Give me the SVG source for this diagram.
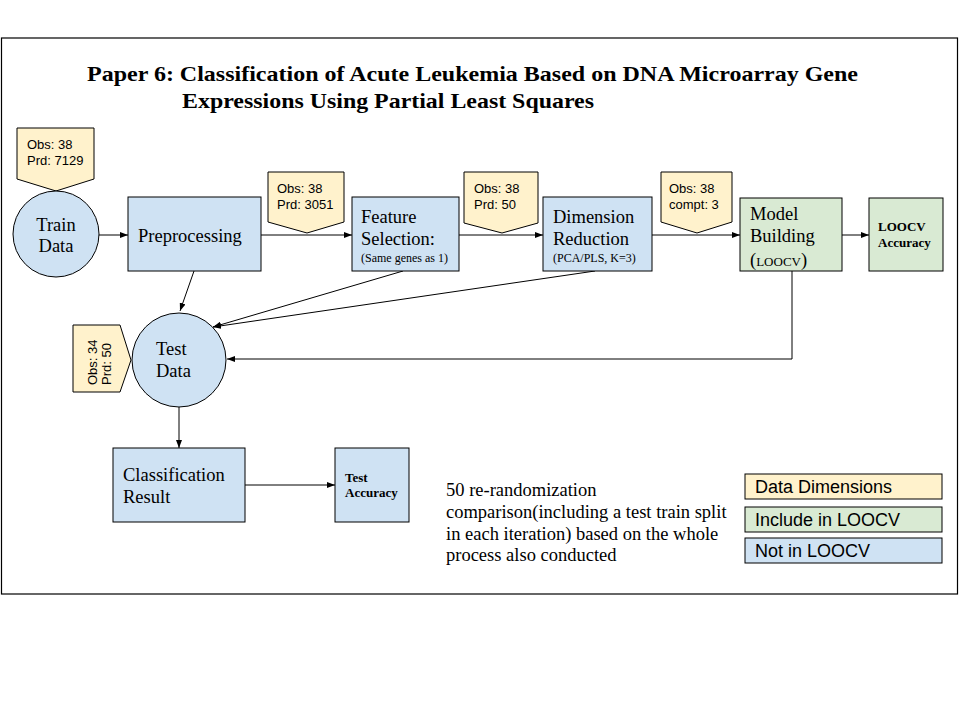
<svg xmlns="http://www.w3.org/2000/svg" width="960" height="720" viewBox="0 0 960 720">
<defs>
<marker id="ah" markerWidth="8" markerHeight="6" refX="8" refY="3" orient="auto" markerUnits="userSpaceOnUse">
<path d="M0,0 L8,3 L0,6 Z" fill="#000"/>
</marker>
<style>
.blue{fill:#cfe2f3;stroke:#000;stroke-width:1}
.green{fill:#d9ead3;stroke:#000;stroke-width:1}
.yel{fill:#fff2cc;stroke:#000;stroke-width:1}
.ser{font-family:"Liberation Serif","Times New Roman",serif;font-size:18.5px;fill:#000}
.sm{font-family:"Liberation Serif","Times New Roman",serif;font-size:12px;fill:#000}
.bsm{font-family:"Liberation Serif","Times New Roman",serif;font-size:13px;font-weight:bold;fill:#000}
.dim{font-family:"Liberation Sans",Arial,sans-serif;font-size:13px;fill:#000}
.leg{font-family:"Liberation Sans",Arial,sans-serif;font-size:18px;fill:#000}
.note{font-family:"Liberation Serif","Times New Roman",serif;font-size:18.5px;fill:#000}
.title{font-family:"Liberation Serif","Times New Roman",serif;font-size:21px;font-weight:bold;fill:#000}
.con{fill:none;stroke:#000;stroke-width:1}
</style>
</defs>
<rect x="0" y="0" width="960" height="720" fill="#fff"/>
<rect x="1.5" y="38" width="956" height="556" fill="none" stroke="#000" stroke-width="1.2"/>
<g id="title">
<text class="title" x="87" y="81" textLength="771" lengthAdjust="spacingAndGlyphs">Paper 6: Classification of Acute Leukemia Based on DNA Microarray Gene</text>
<text class="title" x="182" y="108" textLength="412" lengthAdjust="spacingAndGlyphs">Expressions Using Partial Least Squares</text>
</g>
<g id="connectors">
<line class="con" x1="99" y1="235" x2="128" y2="235" marker-end="url(#ah)"/>
<line class="con" x1="261" y1="235" x2="352" y2="235" marker-end="url(#ah)"/>
<line class="con" x1="459" y1="235" x2="543" y2="235" marker-end="url(#ah)"/>
<line class="con" x1="652" y1="235" x2="740" y2="235" marker-end="url(#ah)"/>
<line class="con" x1="842" y1="235" x2="869" y2="235" marker-end="url(#ah)"/>
<polyline class="con" points="792,271 792,359 227,359" marker-end="url(#ah)"/>
<line class="con" x1="194" y1="271" x2="180" y2="311" marker-end="url(#ah)"/>
<line class="con" x1="403" y1="271" x2="213" y2="327" marker-end="url(#ah)"/>
<line class="con" x1="595" y1="271" x2="213" y2="327" marker-end="url(#ah)"/>
<line class="con" x1="179" y1="407" x2="179" y2="448" marker-end="url(#ah)"/>
<line class="con" x1="245" y1="485" x2="335" y2="485" marker-end="url(#ah)"/>
</g>
<g id="dim-train">
<polygon class="yel" points="17,128 94,128 94,179 56,191 17,179"/>
<text class="dim" x="27" y="149">Obs: 38</text>
<text class="dim" x="27" y="165">Prd: 7129</text>
</g>
<g id="train-data">
<circle class="blue" cx="56" cy="234" r="43"/>
<text class="ser" x="56" y="231" text-anchor="middle">Train</text>
<text class="ser" x="56" y="252" text-anchor="middle">Data</text>
</g>
<g id="preprocessing">
<rect class="blue" x="128" y="197" width="133" height="74"/>
<text class="ser" x="138" y="242">Preprocessing</text>
</g>
<g id="dim-pre">
<polygon class="yel" points="268,172 344,172 344,222 307,233 268,222"/>
<text class="dim" x="277" y="193">Obs: 38</text>
<text class="dim" x="277" y="209">Prd: 3051</text>
</g>
<g id="feature-selection">
<rect class="blue" x="352" y="197" width="107" height="74"/>
<text class="ser" x="361" y="223">Feature</text>
<text class="ser" x="361" y="245">Selection:</text>
<text class="sm" x="361" y="262">(Same genes as 1)</text>
</g>
<g id="dim-fs">
<polygon class="yel" points="464,172 538,172 538,223 502,233 464,223"/>
<text class="dim" x="474" y="193">Obs: 38</text>
<text class="dim" x="474" y="209">Prd: 50</text>
</g>
<g id="dimension-reduction">
<rect class="blue" x="543" y="197" width="109" height="74"/>
<text class="ser" x="553" y="223">Dimension</text>
<text class="ser" x="553" y="245">Reduction</text>
<text class="sm" x="553" y="262">(PCA/PLS, K=3)</text>
</g>
<g id="dim-dr">
<polygon class="yel" points="661,172 732,172 732,222 697,233 661,222"/>
<text class="dim" x="669" y="193">Obs: 38</text>
<text class="dim" x="669" y="209">compt: 3</text>
</g>
<g id="model-building">
<rect class="green" x="740" y="198" width="102" height="73"/>
<text class="ser" x="750" y="220">Model</text>
<text class="ser" x="750" y="242">Building</text>
<text class="ser" x="750" y="266">(<tspan font-size="13">LOOCV</tspan>)</text>
</g>
<g id="loocv-accuracy">
<rect class="green" x="869" y="198" width="74" height="73"/>
<text class="bsm" x="878" y="231">LOOCV</text>
<text class="bsm" x="878" y="247">Accuracy</text>
</g>
<g id="dim-test">
<polygon class="yel" points="73,325 120,325 131,360 120,392 73,392"/>
<text class="dim" transform="translate(97,385) rotate(-90)">Obs: 34</text>
<text class="dim" transform="translate(111,385) rotate(-90)">Prd: 50</text>
</g>
<g id="test-data">
<circle class="blue" cx="179" cy="360" r="47"/>
<text class="ser" x="156" y="355">Test</text>
<text class="ser" x="156" y="377">Data</text>
</g>
<g id="classification-result">
<rect class="blue" x="113" y="448" width="132" height="74"/>
<text class="ser" x="123" y="481">Classification</text>
<text class="ser" x="123" y="503">Result</text>
</g>
<g id="test-accuracy">
<rect class="blue" x="335" y="448" width="74" height="74"/>
<text class="bsm" x="345" y="482">Test</text>
<text class="bsm" x="345" y="497">Accuracy</text>
</g>
<g id="note">
<text class="note" x="446" y="496">50 re-randomization</text>
<text class="note" x="446" y="518">comparison(including a test train split</text>
<text class="note" x="446" y="540">in each iteration) based on the whole</text>
<text class="note" x="446" y="561">process also conducted</text>
</g>
<g id="legend">
<rect class="yel" x="745" y="474" width="197" height="25"/>
<text class="leg" x="755" y="493">Data Dimensions</text>
<rect class="green" x="745" y="507" width="197" height="25"/>
<text class="leg" x="755" y="526">Include in LOOCV</text>
<rect class="blue" x="745" y="538" width="197" height="25"/>
<text class="leg" x="755" y="557">Not in LOOCV</text>
</g>
</svg>
